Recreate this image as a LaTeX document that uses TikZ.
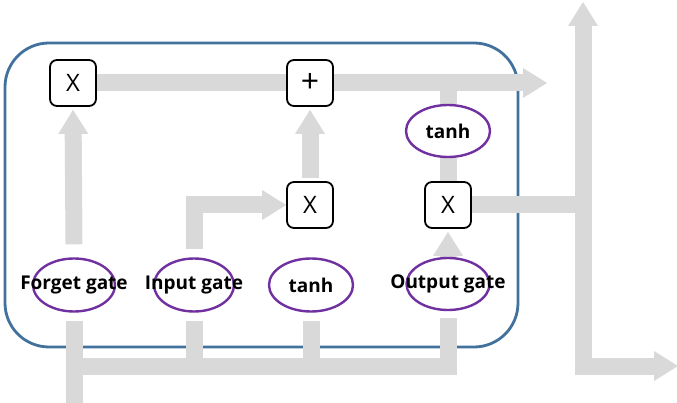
\documentclass[tikz,border=0pt]{standalone}
\usepackage{fontspec}
\setmainfont{Open Sans}
\usetikzlibrary{arrows.meta,shapes.geometric,calc}
\definecolor{flowgray}{RGB}{217,217,217}
\definecolor{cellblue}{RGB}{65,113,156}
\definecolor{gatepurple}{RGB}{112,48,160}
\pgfdeclarelayer{background}
\pgfsetlayers{background,main}
\begin{document}
\begin{tikzpicture}[x=1pt,y=-1pt,
  opbox/.style={draw=black,line width=1.8pt,rounded corners=7pt,fill=white,
    minimum width=46pt,minimum height=46pt,inner sep=0pt,
    font=\fontsize{24}{24}\selectfont},
  gateshape/.style={ellipse,draw=gatepurple,line width=2.4pt,inner sep=0pt,
    minimum width=82pt,minimum height=53pt},
  gatetext/.style={font=\fontsize{19}{20}\selectfont\bfseries},
  bighead/.tip={Triangle[width=30pt,length=24pt,line width=0pt]},
  bar/.style={draw=flowgray,line width=17pt},
  flow/.style={bar,-bighead},
]
\useasboundingbox (0,0) rectangle (677,403);

% operator boxes
\node[opbox] (fx) at (73,83) {X};
\node[opbox,font=\fontsize{32}{32}\selectfont] (plus) at (310,83) {+};
\node[opbox] (ix) at (310,205) {X};
\node[opbox] (ox) at (448,205) {X};

% gates
\node[gateshape,minimum width=84pt,minimum height=52pt] (ot) at (448,131) {};
\node[gatetext] at (ot) {tanh};
\node[gateshape] (fg) at (74,285) {};
\node[gatetext] at (fg) {Forget\ gate};
\node[gateshape,minimum width=80pt] (ig) at (194,285) {};
\node[gatetext] at (ig) {Input\ gate};
\node[gateshape,minimum width=84pt] (tg) at (311,285) {};
\node[gatetext] at (tg) {tanh};
\node[gateshape,minimum width=83pt,minimum height=52pt] (og) at (448,284) {};
\node[gatetext] at (og) {Output\ gate};

% free ends of the flows
\coordinate (cout) at (547,83);
\coordinate (xin) at (74,403);
\coordinate (bus) at (448,366);
\coordinate (vt) at (583,2);
\coordinate (vb) at (583,366);
\coordinate (hout) at (678,366);

\begin{pgfonlayer}{background}
  % cell outline
  \draw[cellblue,line width=2.8pt,rounded corners=44pt] (5,43) rectangle (518,347);

  % cell state line
  \draw[bar] (fx.east) -- (plus.west);
  \draw[flow] (plus.east) -- (cout);
  \draw[bar] (ot.north |- cout) -- (ot.north);
  \draw[bar] (ot.south) -- (ox.north);

  % input bus feeding the gates
  \draw[bar] (xin) -- ($(fg.south)+(0,8)$);
  \draw[bar] (xin |- bus) -- (bus) -- ($(og.south)+(0,7)$);
  \draw[bar] (ig.south |- bus) -- ($(ig.south)+(0,8)$);
  \draw[bar] (tg.south |- bus) -- ($(tg.south)+(0,8)$);

  % gate outputs
  \draw[flow,shorten >=3pt] ($(fg.north)+(0,-13)$) -- (fx.south);
  \draw[flow] ($(ig.north)+(0,-8)$) |- (ix.west);
  \draw[flow,shorten <=3pt,shorten >=3pt] (ix.north) -- (plus.south);
  \draw[flow,shorten >=3pt] (og.north) -- (ox.south);

  % hidden state output
  \draw[bar] (ox.east) -- (ox.east -| vb);
  \draw[bar,bighead-bighead] (vt) -- (vb) -- (hout);
\end{pgfonlayer}
\end{tikzpicture}
\end{document}
